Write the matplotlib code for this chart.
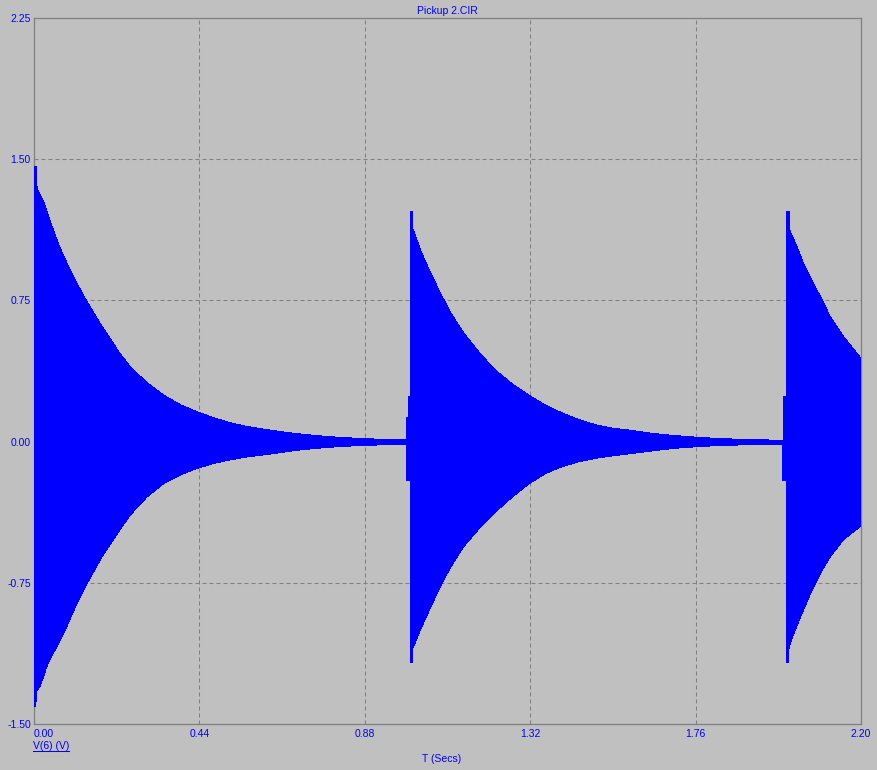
import matplotlib
matplotlib.use("Agg")
import matplotlib.pyplot as plt
from matplotlib.lines import Line2D

# ---- data: envelope of V(6) ----
t_upper = [0.000, 0.006, 0.006, 0.011, 0.028, 0.047, 0.066, 0.085, 0.104, 0.133,
           0.180, 0.228, 0.256, 0.301, 0.345, 0.389, 0.434, 0.478, 0.522, 0.567,
           0.624, 0.691, 0.735, 0.779, 0.824, 0.868, 0.912, 0.957, 0.992,
           0.992, 0.9966, 0.9966, 1.001, 1.002, 1.008, 1.008, 1.012, 1.028, 1.054,
           1.081, 1.108, 1.143, 1.187, 1.227, 1.272, 1.316, 1.360, 1.405, 1.449,
           1.493, 1.538, 1.595, 1.631, 1.675, 1.719, 1.764, 1.808, 1.852, 1.897,
           1.941, 1.993,
           1.993, 2.003, 2.003, 2.010, 2.010, 2.013, 2.030, 2.047, 2.065, 2.092,
           2.118, 2.154, 2.200]
v_upper = [1.46, 1.46, 1.37, 1.33, 1.264, 1.15, 1.045, 0.96, 0.88, 0.771,
           0.615, 0.47, 0.398, 0.312, 0.247, 0.196, 0.158, 0.127, 0.10, 0.080,
           0.062, 0.044, 0.035, 0.027, 0.021, 0.017, 0.013, 0.011, 0.010,
           0.13, 0.13, 0.24, 0.24, 1.22, 1.22, 1.13, 1.11, 1.018, 0.90,
           0.79, 0.685, 0.578, 0.467, 0.38, 0.307, 0.247, 0.194, 0.152, 0.117,
           0.090, 0.072, 0.058, 0.047, 0.037, 0.030, 0.023, 0.018, 0.014, 0.012,
           0.009, 0.007,
           0.242, 0.242, 1.22, 1.22, 1.13, 1.11, 1.035, 0.947, 0.872, 0.77,
           0.665, 0.557, 0.442]

t_lower = [0.000, 0.005, 0.006, 0.016, 0.025, 0.034, 0.047, 0.066, 0.085, 0.104,
           0.133, 0.180, 0.228, 0.256, 0.301, 0.345, 0.389, 0.434, 0.478, 0.522,
           0.567, 0.624, 0.691, 0.735, 0.779, 0.824, 0.868, 0.912, 0.957, 0.992,
           0.992, 1.001, 1.001, 1.007, 1.007, 1.010, 1.028, 1.054, 1.081, 1.108,
           1.143, 1.187, 1.227, 1.272, 1.316, 1.360, 1.405, 1.449, 1.493, 1.538,
           1.595, 1.631, 1.675, 1.719, 1.764, 1.808, 1.852, 1.897, 1.941, 1.992,
           1.992, 2.001, 2.001, 2.008, 2.008, 2.012, 2.030, 2.065, 2.092, 2.118,
           2.154, 2.200]
v_lower = [-1.405, -1.405, -1.33, -1.30, -1.25, -1.195, -1.14, -1.07, -0.993, -0.905,
           -0.784, -0.615, -0.47, -0.39, -0.293, -0.223, -0.177, -0.142, -0.116, -0.097,
           -0.081, -0.067, -0.048, -0.039, -0.031, -0.025, -0.021, -0.018, -0.015, -0.014,
           -0.204, -0.204, -1.176, -1.176, -1.096, -1.089, -1.0, -0.885, -0.77, -0.668,
           -0.558, -0.455, -0.375, -0.295, -0.225, -0.170, -0.133, -0.107, -0.089, -0.076,
           -0.062, -0.053, -0.042, -0.033, -0.027, -0.022, -0.019, -0.017, -0.015, -0.014,
           -0.204, -0.204, -1.176, -1.176, -1.10, -1.07, -0.975, -0.81, -0.70, -0.612,
           -0.52, -0.448]

x_ticks = [0.00, 0.44, 0.88, 1.32, 1.76, 2.20]
y_ticks = [-1.50, -0.75, 0.00, 0.75, 1.50, 2.25]
x_tick_labels = ["0.00", "0.44", "0.88", "1.32", "1.76", "2.20"]
y_tick_labels = ["-1.50", "-0.75", "0.00", "0.75", "1.50", "2.25"]

title = "Pickup 2.CIR"
x_label = "T (Secs)"
trace_label = "V(6) (V)"

# ---- styling ----
W, H = 878, 770
BG = "#C0C0C0"
BLUE = "#0000FF"
GRAY = "#808080"
FS = 7.5
plt.rcParams["font.family"] = ["Liberation Sans", "DejaVu Sans"]

fig = plt.figure(figsize=(W / 100, H / 100), dpi=100, facecolor=BG)
left, right, top, bottom = 34, 861, 18, 724
ax = fig.add_axes([left / W, (H - bottom) / H, (right - left) / W, (bottom - top) / H])
ax.set_facecolor(BG)

xs = list(t_upper) + list(t_lower[::-1])
ys = list(v_upper) + list(v_lower[::-1])
ax.fill(xs, ys, color=BLUE, linewidth=0, antialiased=False, zorder=3)

ax.set_xlim(0, 2.2)
ax.set_ylim(-1.5, 2.25)
ax.set_xticks(x_ticks)
ax.set_yticks(y_ticks)
ax.set_xticklabels(x_tick_labels)
ax.set_yticklabels(y_tick_labels)
ax.tick_params(axis="both", length=0, labelsize=FS, labelcolor=BLUE)
ax.tick_params(axis="x", pad=3.5)
ax.tick_params(axis="y", pad=2.2)
xtl = ax.get_xticklabels()
xtl[0].set_horizontalalignment("left")

ax.grid(True, color=GRAY, linewidth=0.75, linestyle=(0, (3.84, 2.88)), zorder=1)
ax.set_axisbelow(True)
for s in ax.spines.values():
    s.set_color(GRAY)
    s.set_linewidth(0.9)

fig.text(447 / W, 1 - 11 / H, title, color=BLUE, fontsize=FS, ha="center", va="center")
fig.text(442 / W, 1 - 759 / H, x_label, color=BLUE, fontsize=FS, ha="center", va="center")
lab = fig.text(33 / W, 1 - 746 / H, trace_label, color=BLUE, fontsize=FS, ha="left", va="center")
fig.canvas.draw()
bb = lab.get_window_extent(renderer=fig.canvas.get_renderer())
fig.add_artist(Line2D([bb.x0 / W, bb.x1 / W], [1 - 750.5 / H, 1 - 750.5 / H],
                      transform=fig.transFigure, color=BLUE, linewidth=0.75))

fig.savefig("out.png", dpi=100, facecolor=BG)
